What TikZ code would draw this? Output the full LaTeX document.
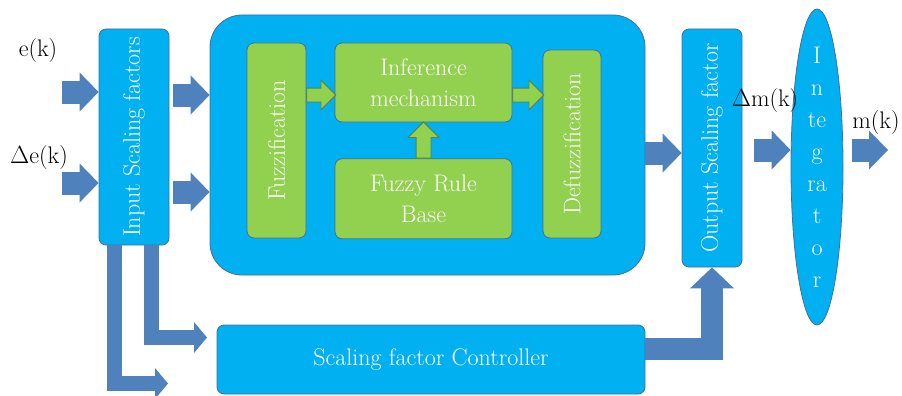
\documentclass[tikz,border=0pt]{standalone}
\usepackage{amsmath}
\usepackage{tikz}
\usetikzlibrary{arrows.meta, calc, positioning, shapes.geometric, shapes.arrows}

\definecolor{boxblue}{HTML}{00B0F0}
\definecolor{edgeblue}{HTML}{41719C}
\definecolor{rulegreen}{HTML}{92D050}
\definecolor{garrowedge}{HTML}{5E7F45}
\definecolor{arrowblue}{HTML}{4F81BD}

\begin{document}
\begin{tikzpicture}[x=1pt, y=-1pt,
	every node/.style={font=\fontsize{24}{31}\selectfont},
	box/.style={draw=edgeblue, line width=0.8pt, fill=boxblue, rounded corners=7pt, text=white, inner sep=0pt, align=center},
	greenbox/.style={draw=edgeblue, line width=0.8pt, fill=rulegreen, rounded corners=7pt, text=white, inner sep=0pt, align=center},
	garrow/.style={single arrow, draw=garrowedge, fill=rulegreen, line width=0.8pt, inner sep=0pt, single arrow head extend=8pt, single arrow tip angle=90, minimum width=29pt},
	bigarrow/.style={draw=arrowblue, line width=23pt, -{Triangle[width=39pt, length=19pt, line width=0pt]}},
	thinarrow/.style={draw=arrowblue, line width=15pt, -{Triangle[width=31pt, length=13pt, line width=0pt]}},
	ctrlarrow/.style={draw=arrowblue, line width=22pt, -{Triangle[width=44pt, length=21pt, line width=0pt]}}
]

\useasboundingbox (0,0) rectangle (902,396);

% rows of the block arrows
\coordinate (r1) at (0,95);
\coordinate (r2) at (0,192);
\coordinate (r3) at (0,153);
\coordinate (r4) at (0,150);

\node [box, minimum width=70pt, minimum height=216pt] (isf) at (134,137) {\rotatebox{90}{Input Scaling factors}};

\node [box, rounded corners=32pt, minimum width=435pt, minimum height=260pt] (flc) at (427.5,145) {};

\node [greenbox, minimum width=59pt, minimum height=195pt] (fuzz) at (276.5,140.5) {\rotatebox{90}{Fuzzification}};
\node [greenbox, minimum width=177pt, minimum height=79pt] (inf) at (423.5,82.5) {Inference\\mechanism};
\node [greenbox, minimum width=177pt, minimum height=80pt, below=36pt of inf] (rule) {Fuzzy Rule\\Base};
\node [greenbox, minimum width=58pt, minimum height=188pt] (defuzz) at (572,144) {\rotatebox{90}{Defuzzification}};

\node [box, minimum width=60pt, minimum height=238pt] (osf) at (712,148) {\rotatebox{90}{Output Scaling factor}};

\node [draw=edgeblue, line width=0.8pt, fill=boxblue, ellipse, inner sep=0pt, minimum width=52pt, minimum height=316pt] (integ) at (817,167) {};
\node [align=center, text=white, font=\fontsize{24}{32}\selectfont] (integtext) at (integ) {I\\n\\te\\g\\ra\\t\\o\\r};

\node [box, minimum width=428pt, minimum height=69pt] (ctrl) at (431,359.5) {Scaling factor Controller};

\node (ek) at (38,51) {e(k)};
\node (dek) at (39,158) {$\Delta$e(k)};
\node (dmk) at (765,101) {$\Delta$m(k)};
\node (mk) at (876,123) {m(k)};

% green arrows inside the controller
\node [garrow, minimum height=29pt, anchor=tail] (g1) at (fuzz.east |- r1) {\rule{0pt}{13pt}};
\node [garrow, minimum height=31pt, anchor=tail] (g2) at (inf.east |- r1) {\rule{0pt}{13pt}};
\node [garrow, rotate=90, minimum height=36pt, anchor=tail, minimum width=30pt] (g3) at (rule.north) {\rule{0pt}{14pt}};

% block arrows
\coordinate (ein) at (62,92);
\coordinate (dein) at (62,183);
\coordinate (mout) at (888,150);
\coordinate (sfa) at (168,383.5);
\coordinate (sfb) at (207,337.5);

\draw [bigarrow] (ein) -- (ein -| isf.west);
\draw [bigarrow] (dein) -- (dein -| isf.west);
\draw [bigarrow] ($(isf.east |- r1)+(4,0)$) -- (flc.west |- r1);
\draw [bigarrow] ($(isf.east |- r2)+(4,0)$) -- (flc.west |- r2);
\draw [bigarrow] (flc.east |- r3) -- (osf.west |- r3);
\draw [bigarrow] ($(osf.east |- r4)+(12,0)$) -- (integ.west |- r4);
\draw [bigarrow] ($(integ.east |- r4)+(9,0)$) -- (mout);

\draw [thinarrow] ($(isf.south)+(-19.5,0)$) |- (sfa);
\draw [thinarrow] ($(isf.south)+(17.5,0)$) |- (sfb);
\draw [ctrlarrow] ($(ctrl.east)+(0,-10.5)$) -| (osf.south);

\end{tikzpicture}
\end{document}
